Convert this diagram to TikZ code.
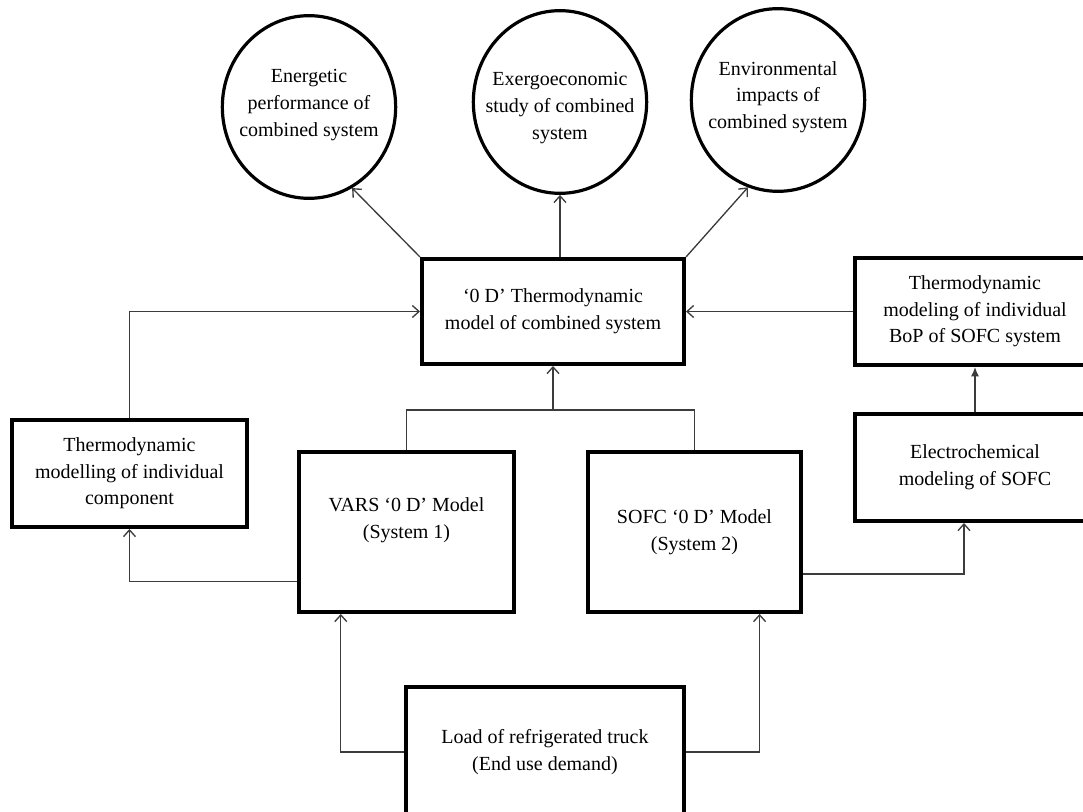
\documentclass[tikz,border=0pt]{standalone}
\usepackage{fontspec}
\setmainfont{Liberation Serif}
\usetikzlibrary{calc, positioning}
\usetikzlibrary{arrows.meta}
\usetikzlibrary{shapes.geometric}

\begin{document}
\begin{tikzpicture}[x=0.75pt,y=-0.75pt,
  every node/.style={font=\fontsize{15}{20}\selectfont, align=center},
  modelbox/.style={draw=black, line width=3pt, rectangle, inner sep=0pt},
  goal/.style={draw=black, line width=2.4pt, ellipse, minimum width=130pt, minimum height=137pt, inner sep=0pt},
  link/.style={draw=linkgray, line width=1pt},
  flow/.style={link, -{Straight Barb[length=5pt,width=9pt]}},
  solidflow/.style={link, -{Latex[length=7pt,width=6pt]}}]
\definecolor{linkgray}{RGB}{60,60,60}
\useasboundingbox (0,0) rectangle (1083,812);
\clip (0,0) rectangle (1083,812);

% result ellipses
\node[goal] (energy) at (309,107) {};
\node (energytext) at (309,105) {Energetic\\performance of\\combined system};
\node[goal] (exergy) at (560,102) {};
\node (exergytext) at (560,108) {Exergoeconomic\\study of combined\\system};
\node[goal] (environ) at (778,100) {};
\node (environtext) at (778,97) {Environmental\\impacts of\\combined system};

% model boxes
\node[modelbox, minimum width=196.5pt, minimum height=78.75pt] (thermo) at (553,311.5) {‘0 D’ Thermodynamic\\model of combined system};
\node[modelbox, minimum width=176.25pt, minimum height=80.25pt] (component) at (129.5,473.5) {Thermodynamic\\modelling of individual\\component};
\node[modelbox, minimum width=161.25pt, minimum height=120pt] (vars) at (406.5,532) {};
\node (varstext) at (406.5,520) {VARS ‘0 D’ Model\\(System 1)};
\node[modelbox, minimum width=159.75pt, minimum height=120pt] (sofc) at (694.5,532) {SOFC ‘0 D’ Model\\(System 2)};
\node[modelbox, minimum width=180pt, minimum height=80.25pt] (bop) at (975,311.5) {Thermodynamic\\modeling of individual\\BoP of SOFC system};
\node[modelbox, minimum width=180pt, minimum height=80.25pt] (electro) at (975,467.5) {Electrochemical\\modeling of SOFC};
\node[modelbox, minimum width=208.5pt, minimum height=97.5pt] (load) at (545,752) {Load of refrigerated truck\\(End use demand)};

% connectors
\draw[flow] (thermo.north west) -- (energy.298);
\draw[flow] (exergy.south |- thermo.north) -- (exergy.south);
\draw[flow] (thermo.north east) -- (environ.251);
\draw[flow] (component.north) |- (thermo.west);
\draw[flow] ($(vars.south west)!0.2!(vars.north west)$) -| (component.south);
\draw[flow] ($(sofc.south east)!0.244!(sofc.north east)$) -| ($(electro.south)+(-11,0)$);
\coordinate (merge) at ($(thermo.south)+(0,44)$);
\draw[link] (vars.north) |- (merge) -| (sofc.north);
\draw[flow] (merge) -- (thermo.south);
\draw[solidflow] (electro.north) -- (bop.south);
\draw[flow] (bop.west) -- (thermo.east);
\draw[flow] (load.west) -| ($(vars.south west)!0.2!(vars.south east)$);
\draw[flow] (load.east) -| ($(sofc.south west)!0.8!(sofc.south east)$);
\end{tikzpicture}
\end{document}
